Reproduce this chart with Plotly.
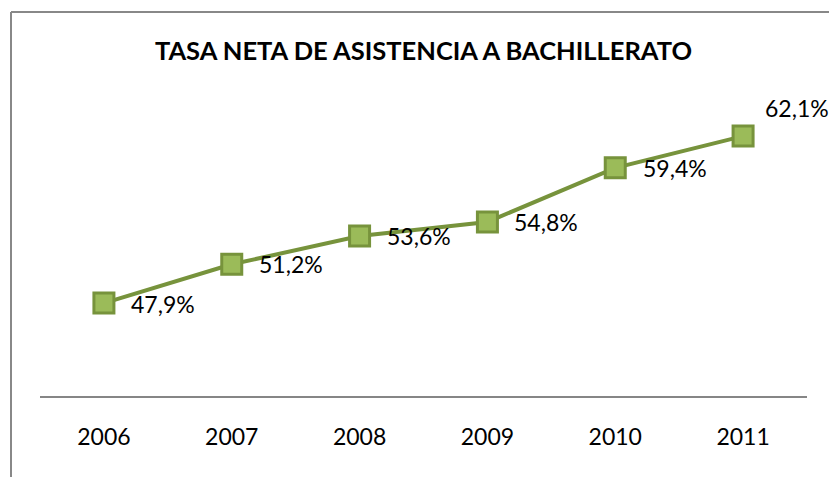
import plotly.graph_objects as go

years = ["2006", "2007", "2008", "2009", "2010", "2011"]
values = [47.9, 51.2, 53.6, 54.8, 59.4, 62.1]
labels = ["47,9%", "51,2%", "53,6%", "54,8%", "59,4%", "62,1%"]
label_dx = [25, 25, 25, 25, 26, 20]
label_dy = [-1, 0, 0, 0, 0, 28]

title_text = "TASA NETA DE ASISTENCIA A BACHILLERATO"

fig = go.Figure()
fig.add_trace(go.Scatter(
    x=years, y=values, mode="lines+markers",
    line=dict(color="#77933C", width=4),
    marker=dict(symbol="square", size=20, color="#9BBB59",
                line=dict(color="#77933C", width=3)),
    cliponaxis=False,
    showlegend=False,
))

# on a category axis, annotation positions are given as category indices
annotations = [
    dict(x=i, y=yv, text=t, xref="x", yref="y", showarrow=False,
         xanchor="left", yanchor="middle", xshift=dx, yshift=dy,
         font=dict(family="Lato", size=23, color="#000000"))
    for i, (yv, t, dx, dy) in enumerate(zip(values, labels, label_dx, label_dy))
]

fig.update_layout(
    width=829, height=477,
    margin=dict(l=40, r=22, t=102, b=81),
    paper_bgcolor="white", plot_bgcolor="white",
    title=dict(text="<b>" + title_text + "</b>", x=0.5, xref="paper",
               y=1 - 51 / 477, yref="container", yanchor="middle",
               font=dict(family="Lato", size=25.5, color="#000000")),
    xaxis=dict(type="category", range=[-0.5, 5.5], showline=True,
               linecolor="#868686", linewidth=1.5,
               showgrid=False, zeroline=False, ticks="",
               tickfont=dict(family="Lato", size=23, color="#000000"),
               ticklabelstandoff=20),
    yaxis=dict(range=[40, 65], visible=False, showgrid=False, zeroline=False),
    annotations=annotations,
    shapes=[
        dict(type="line", xref="paper", yref="paper",
             x0=(11 - 40) / 767, x1=(900 - 40) / 767,
             y0=(396 - 12) / 294, y1=(396 - 12) / 294,
             line=dict(color="#888888", width=2)),
        dict(type="line", xref="paper", yref="paper",
             x0=(11 - 40) / 767, x1=(11 - 40) / 767,
             y0=(396 - 12) / 294, y1=(396 - 600) / 294,
             line=dict(color="#888888", width=2)),
    ],
)

fig.write_html("out.html")
